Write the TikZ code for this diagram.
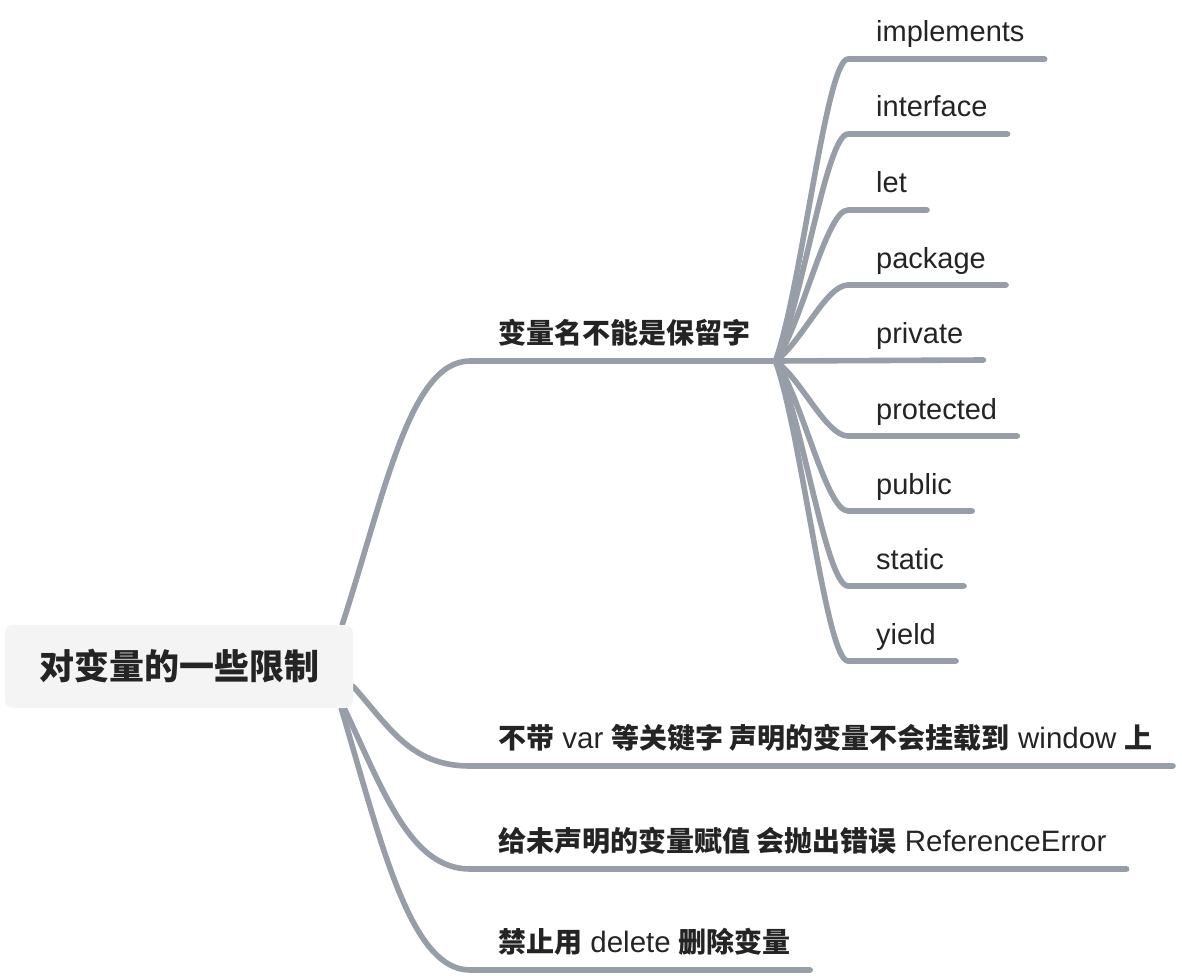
\documentclass[tikz,border=0pt]{standalone}
\usepackage{fontspec}
\setmainfont{Liberation Sans}
\newfontfamily\cjk{Noto Sans CJK SC}
\usetikzlibrary{calc}
\definecolor{edgec}{RGB}{151,158,168}
\definecolor{ink}{RGB}{36,36,36}
\definecolor{rootfill}{RGB}{244,244,244}
\pgfdeclarelayer{bg}
\pgfsetlayers{bg,main}
\begin{document}
\begin{tikzpicture}[x=1pt,y=-1pt,
  edge/.style={draw=edgec, line width=5.6pt, line cap=round, line join=round},
  kw/.style={font=\fontsize{29}{34}\selectfont, text=ink, inner sep=0pt, anchor=base west},
  br/.style={font=\fontsize{29.5}{34}\selectfont, text=ink, inner sep=0pt, anchor=base west},
  rootbox/.style={rectangle, rounded corners=8pt, fill=rootfill, minimum width=348pt, minimum height=83pt, inner sep=0pt, text=ink, font=\fontsize{35}{40}\selectfont\cjk\bfseries}]
\useasboundingbox (0,0) rectangle (1182,976);

% root
\node[rootbox] (root) at (179,666.5) {对变量的一些限制};

% main branches
\newcommand\zh[1]{{\fontsize{28}{34}\selectfont\cjk\bfseries #1}}
\node[br] (b1) at (498,343) {\zh{变量名不能是保留字}};
\node[br] (b2) at (498,748) {\zh{不带} var \zh{等关键字 声明的变量不会挂载到} window \zh{上}};
\node[br] (b3) at (498,851) {\zh{给未声明的变量赋值 会抛出错误} ReferenceError};
\node[br] (b4) at (498,952) {\zh{禁止用} delete \zh{删除变量}};

% keywords
\node[kw] (k1) at (876,42)  {implements};
\node[kw] (k2) at (876,117) {interface};
\node[kw] (k3) at (876,193) {let};
\node[kw] (k4) at (876,268) {package};
\node[kw] (k5) at (876,343) {private};
\node[kw] (k6) at (876,419) {protected};
\node[kw] (k7) at (876,494) {public};
\node[kw] (k8) at (876,569) {static};
\node[kw] (k9) at (876,644) {yield};

% anchor coordinates
\coordinate (s1) at ([xshift=-11pt]root.north east);
\coordinate (s2) at ([yshift=-20pt]root.east);
\coordinate (s3) at ([xshift=-9pt]root.south east);
\coordinate (s4) at ([xshift=-12pt]root.south east);
\coordinate (j) at ([shift={(25pt,-18pt)}]b1.base east);

\begin{pgfonlayer}{bg}
  % root to branches
  \draw[edge] (s1) .. controls +(43,-133) and +(-60,0) .. ([shift={(-28pt,-18pt)}]b1.base west) -- (j);
  \draw[edge] (s2) .. controls +(36,40) and +(-60,0) .. ([shift={(-28pt,-18pt)}]b2.base west) -- ([shift={(20pt,-18pt)}]b2.base east);
  \draw[edge] (s3) .. controls +(39,82) and +(-60,0) .. ([shift={(-28pt,-18pt)}]b3.base west) -- ([shift={(20pt,-18pt)}]b3.base east);
  \draw[edge] (s4) .. controls +(40,134) and +(-60,0) .. ([shift={(-28pt,-18pt)}]b4.base west) -- ([shift={(19pt,-18pt)}]b4.base east);
  % branch 1 to keywords
  \draw[edge] (j) .. controls +(26,-71) and +(-22,0) .. ([shift={(-28pt,-17pt)}]k1.base west) -- ([shift={(20pt,-17pt)}]k1.base east);
  \draw[edge] (j) .. controls +(26,-53) and +(-22,0) .. ([shift={(-28pt,-17pt)}]k2.base west) -- ([shift={(20pt,-17pt)}]k2.base east);
  \draw[edge] (j) .. controls +(26,-35) and +(-22,0) .. ([shift={(-28pt,-17pt)}]k3.base west) -- ([shift={(20pt,-17pt)}]k3.base east);
  \draw[edge] (j) .. controls +(26,-18) and +(-22,0) .. ([shift={(-28pt,-17pt)}]k4.base west) -- ([shift={(20pt,-17pt)}]k4.base east);
  \draw[edge] (j) -- ([shift={(20pt,-17pt)}]k5.base east);
  \draw[edge] (j) .. controls +(26,18) and +(-22,0) .. ([shift={(-28pt,-17pt)}]k6.base west) -- ([shift={(20pt,-17pt)}]k6.base east);
  \draw[edge] (j) .. controls +(26,35) and +(-22,0) .. ([shift={(-28pt,-17pt)}]k7.base west) -- ([shift={(20pt,-17pt)}]k7.base east);
  \draw[edge] (j) .. controls +(26,53) and +(-22,0) .. ([shift={(-28pt,-17pt)}]k8.base west) -- ([shift={(20pt,-17pt)}]k8.base east);
  \draw[edge] (j) .. controls +(26,71) and +(-22,0) .. ([shift={(-28pt,-17pt)}]k9.base west) -- ([shift={(20pt,-17pt)}]k9.base east);
\end{pgfonlayer}
\end{tikzpicture}
\end{document}
